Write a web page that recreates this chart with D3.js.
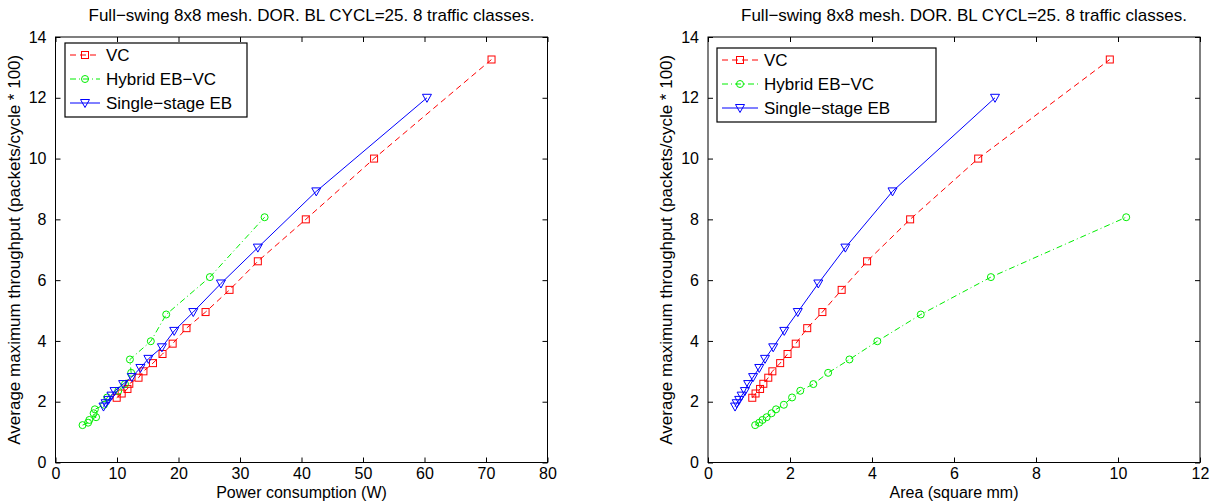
<!DOCTYPE html>
<html><head><meta charset="utf-8">
<script src="https://cdn.jsdelivr.net/npm/d3@7"></script>
<style>body{margin:0;background:#fff}svg{display:block}text{font-family:"Liberation Sans",Arial,sans-serif;fill:#000}</style>
</head><body>
<svg id="c" width="1213" height="501"></svg>
<script>
const titleText = "Full\u2212swing 8x8 mesh. DOR. BL CYCL=25. 8 traffic classes.";
const yLabel = "Average maximum throughput (packets/cycle * 100)";
const seriesNames = ["VC", "Hybrid EB\u2212VC", "Single\u2212stage EB"];
const yTicks = [0,2,4,6,8,10,12,14];
const powerTicks = [0,10,20,30,40,50,60,70,80];
const areaTicks = [0,2,4,6,8,10,12];

const vcThroughput = [2.13,2.27,2.42,2.59,2.79,3.0,3.27,3.57,3.91,4.42,4.95,5.68,6.62,8.0,10.0,13.26];
const vcPower = [9.95,10.76,11.7,12.0,13.5,14.3,15.85,17.4,19.05,21.3,24.4,28.3,32.9,40.7,51.8,70.9];
const vcArea = [1.08,1.16,1.27,1.35,1.47,1.57,1.76,1.94,2.14,2.42,2.79,3.26,3.88,4.93,6.59,9.8];

const hybridThroughput = [1.23,1.31,1.40,1.49,1.62,1.75,1.90,2.14,2.36,2.58,2.95,3.39,3.99,4.87,6.1,8.07];
const hybridPower = [4.4,5.3,5.5,6.6,6.2,6.4,7.9,8.4,10.2,11.3,12.3,12.1,15.5,18.0,25.1,34.0];
const hybridArea = [1.15,1.25,1.33,1.43,1.55,1.66,1.85,2.05,2.25,2.57,2.93,3.45,4.13,5.19,6.9,10.2];

const ebThroughput = [1.84,1.95,2.06,2.2,2.35,2.58,2.81,3.11,3.41,3.79,4.33,4.95,5.89,7.07,8.92,12.0];
const ebPower = [7.8,8.15,8.6,9.1,9.6,11.0,12.4,13.8,15.1,17.3,19.3,22.4,26.9,32.9,42.4,60.4];
const ebArea = [0.66,0.70,0.76,0.82,0.90,0.98,1.10,1.25,1.39,1.59,1.86,2.19,2.69,3.35,4.5,7.0];

const styles = [
  {color:"#ff0000", dash:"6,4", marker:"square"},
  {color:"#00ee00", dash:"6,3,1,3", marker:"circle"},
  {color:"#0000ff", dash:null, marker:"tri"}
];

const svg = d3.select("#c");

function drawMarker(g, type, x, y, color){
  if(type==="square"){
    g.append("rect").attr("x",x-3.5).attr("y",y-3.5).attr("width",7).attr("height",7)
     .attr("fill","none").attr("stroke",color).attr("stroke-width",1);
  } else if(type==="circle"){
    g.append("circle").attr("cx",x).attr("cy",y).attr("r",3.5)
     .attr("fill","none").attr("stroke",color).attr("stroke-width",1);
  } else {
    g.append("path").attr("d",`M${x-4.5},${y-3.5}L${x+4.5},${y-3.5}L${x},${y+4.5}Z`)
     .attr("fill","none").attr("stroke",color).attr("stroke-width",1);
  }
}

function panel(opts){
  const {left,right,top,bottom,xDomain,xTicks,xLabel,xs,legend} = opts;
  const x = d3.scaleLinear().domain(xDomain).range([left,right]);
  const y = d3.scaleLinear().domain([0,14]).range([bottom,top]);
  const g = svg.append("g");
  g.append("rect").attr("x",left).attr("y",top).attr("width",right-left).attr("height",bottom-top)
   .attr("fill","none").attr("stroke","#000").attr("stroke-width",1);
  const ax = g.append("g").attr("transform",`translate(0,${bottom})`)
    .call(d3.axisBottom(x).tickValues(xTicks).tickSize(-5).tickPadding(5).tickSizeOuter(0));
  const axT = g.append("g").attr("transform",`translate(0,${top})`)
    .call(d3.axisTop(x).tickValues(xTicks).tickSize(-5).tickFormat("").tickSizeOuter(0));
  const ay = g.append("g").attr("transform",`translate(${left},0)`)
    .call(d3.axisLeft(y).tickValues(yTicks).tickSize(-5).tickPadding(9).tickSizeOuter(0));
  const ayR = g.append("g").attr("transform",`translate(${right},0)`)
    .call(d3.axisRight(y).tickValues(yTicks).tickSize(-5).tickFormat("").tickSizeOuter(0));
  [ax,axT,ay,ayR].forEach(a=>{a.select(".domain").remove();
    a.selectAll("line").attr("stroke","#000");
    a.selectAll("text").style("font-size","16px").attr("font-family","Liberation Sans, Arial, sans-serif").attr("fill","#000");});
  g.append("text").attr("x",(left+right)/2+10).attr("y",top-16).attr("text-anchor","middle")
   .style("font-size","17px").text(titleText);
  g.append("text").attr("x",(left+right)/2).attr("y",bottom+35).attr("text-anchor","middle")
   .style("font-size","16px").text(xLabel);
  g.append("text").attr("transform",`translate(${left-36},${(top+bottom)/2}) rotate(-90)`)
   .attr("text-anchor","middle").style("font-size","17px").text(yLabel);
  const ys = [vcThroughput, hybridThroughput, ebThroughput];
  const line = d3.line().x(d=>x(d[0])).y(d=>y(d[1]));
  ys.forEach((yy,i)=>{
    const pts = xs[i].map((v,j)=>[v,yy[j]]);
    const st = styles[i];
    g.append("path").attr("d",line(pts)).attr("fill","none").attr("stroke",st.color)
     .attr("stroke-width",1).attr("stroke-dasharray",st.dash);
    pts.forEach(p=>drawMarker(g, st.marker, x(p[0]), y(p[1]), st.color));
  });
  const L = legend;
  g.append("rect").attr("x",L.x).attr("y",L.y).attr("width",L.w).attr("height",L.h)
   .attr("fill","#fff").attr("stroke","#000").attr("stroke-width",1.2);
  seriesNames.forEach((name,i)=>{
    const cy = L.y + 12 + i*24;
    const st = styles[i];
    g.append("line").attr("x1",L.x+5).attr("x2",L.x+5+L.lineLen).attr("y1",cy).attr("y2",cy)
     .attr("stroke",st.color).attr("stroke-width",1).attr("stroke-dasharray",st.dash);
    drawMarker(g, st.marker, L.x+5+L.lineLen/2, cy, st.color);
    g.append("text").attr("x",L.x+L.lineLen+11).attr("y",cy+6).style("font-size","17px").text(name);
  });
}

panel({left:55.5,right:547.5,top:37,bottom:462.5,xDomain:[0,80],xTicks:powerTicks,
  xLabel:"Power consumption (W)", xs:[vcPower,hybridPower,ebPower],
  legend:{x:65,y:43,w:182,h:74,lineLen:30}});
panel({left:708,right:1200,top:37,bottom:462.5,xDomain:[0,12],xTicks:areaTicks,
  xLabel:"Area (square mm)", xs:[vcArea,hybridArea,ebArea],
  legend:{x:717,y:48,w:219,h:74,lineLen:36}});
</script>
</body></html>
